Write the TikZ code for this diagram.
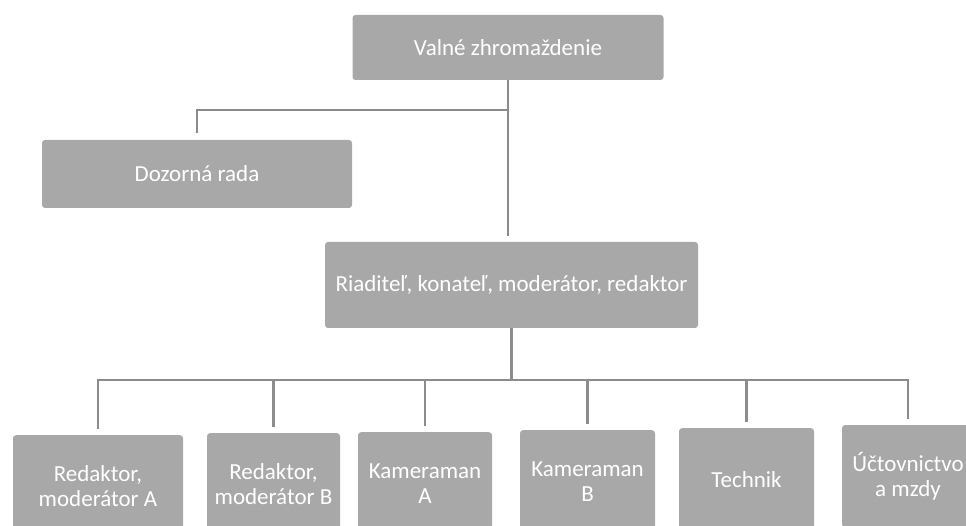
\documentclass[tikz,border=0pt]{standalone}
\usepackage{fontspec}
\setmainfont{Carlito}
\definecolor{boxgray}{HTML}{A8A8A8}
\definecolor{linegray}{HTML}{8C8C8C}
\begin{document}
\begin{tikzpicture}[x=1pt,y=-1pt,
  orgbox/.style={fill=boxgray, rounded corners=3pt, text=white, align=center,
    font=\fontsize{23}{25}\selectfont, inner sep=0pt},
  conn/.style={draw=linegray, line width=2.4pt}]
\useasboundingbox (0,0) rectangle (966,526);
\clip (0,0) rectangle (966,526);
\node[orgbox, minimum width=311pt, minimum height=65pt] (valne) at (508,47.5) {Valné zhromaždenie};
\node[orgbox, minimum width=310pt, minimum height=68pt] (dozor) at (197,174) {Dozorná rada};
\node[orgbox, minimum width=373pt, minimum height=86pt] (riad) at (511.5,285) {Riaditeľ, konateľ, moderátor, redaktor};
\node[orgbox, anchor=north, minimum width=170pt, minimum height=102pt] (b1) at (98,435) {Redaktor,\\moderátor A};
\node[orgbox, anchor=north, minimum width=133pt, minimum height=102pt] (b2) at (273.5,433) {Redaktor,\\moderátor B};
\node[orgbox, anchor=north, minimum width=134pt, minimum height=102pt] (b3) at (425,432) {Kameraman\\A};
\node[orgbox, anchor=north, minimum width=135pt, minimum height=102pt] (b4) at (587.5,430) {Kameraman\\B};
\node[orgbox, anchor=north, minimum width=135pt, minimum height=102pt] (b5) at (746.5,428) {Technik};
\node[orgbox, anchor=north, minimum width=132pt, minimum height=102pt] (b6) at (908,425) {Účtovnictvo\\a mzdy};
% connector end points
\coordinate (rtop) at ([yshift=6pt]riad.north);
\coordinate (dtop) at ([yshift=7pt]dozor.north);
\coordinate (vsplit) at (508,110);
\coordinate (bus) at (511.5,380);
\foreach \i in {1,...,6} {\coordinate (b\i t) at ([yshift=6pt]b\i.north);}
% connectors
\draw[conn] (valne.south) -- (valne.south |- rtop);
\draw[conn] (vsplit) -| (dtop);
\draw[conn] (riad.south) -- (bus);
\draw[conn] (b1t) |- (bus) -| (b6t);
\foreach \i in {2,...,5} {\draw[conn] (b\i t) -- (b\i t |- bus);}
\end{tikzpicture}
\end{document}
